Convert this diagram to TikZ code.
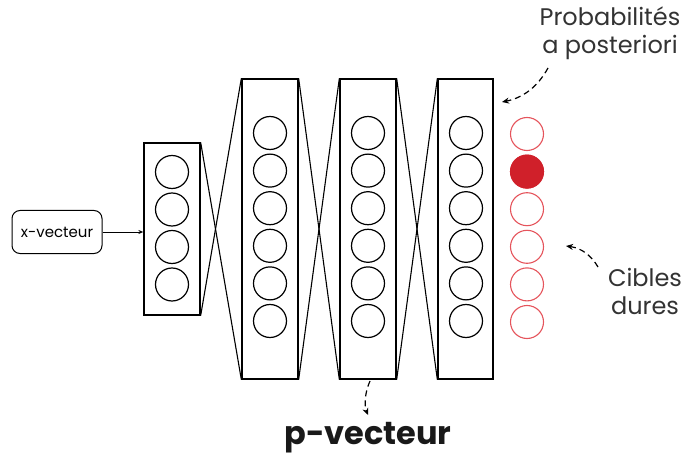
\documentclass[tikz,border=0pt]{standalone}
\usepackage{fontspec}
\setmainfont{Poppins}
\usetikzlibrary{arrows.meta}
\definecolor{redfill}{HTML}{D0202A}
\definecolor{redline}{HTML}{E5545C}
\tikzset{
  layerbox/.style={draw, line width=1.3pt, minimum width=56pt, inner sep=0pt},
  neuron/.style={circle, draw, line width=1.2pt, minimum size=33pt, inner sep=0pt},
  target/.style={circle, draw=redline, line width=1.1pt, minimum size=33pt, inner sep=0pt},
  cross/.style={line width=1.1pt},
  annot/.style={line width=1.2pt, dash pattern=on 6pt off 4pt, -{Stealth[length=7pt,width=6pt]}},
  lbl/.style={font=\fontsize{24}{28}\selectfont, text=black!80, align=center}
}
\begin{document}
\begin{tikzpicture}[x=1pt,y=-1pt]
\useasboundingbox (0,0) rectangle (688,457);
% input
\node[draw, rounded corners=8pt, line width=1pt, minimum width=90pt, minimum height=43pt, inner sep=0pt, font=\fontsize{15}{17}\selectfont] (xv) at (57,232) {x-vecteur};
% layer boxes
\node[layerbox, minimum height=172pt] (b1) at (172,229) {};
\node[layerbox, minimum height=300pt] (b2) at (270,229) {};
\node[layerbox, minimum height=300pt] (b3) at (368,229) {};
\node[layerbox, minimum height=300pt, minimum width=55pt] (b4) at (465.5,229) {};
% neurons
\foreach \y [count=\i] in {172,209.5,247,284.5} \node[neuron] (a\i) at (172,\y) {};
\foreach \y [count=\i] in {133,170.6,208.2,245.8,283.4,321}{
  \node[neuron] (c\i) at (270,\y) {};
  \node[neuron] (d\i) at (368,\y) {};
  \node[neuron] (e\i) at (466,\y) {};
}
\foreach \y [count=\i] in {134,171.6,209.2,246.8,284.4,322}
  \node[target] (t\i) at (527,\y) {};
\node[circle, fill=redfill, draw=redfill, line width=1.1pt, minimum size=33pt, inner sep=0pt] at (t2) {};
% connections
\draw[-{Stealth[length=5pt,width=4pt]}, line width=0.9pt] (xv.east) -- (xv.east -| b1.west);
\draw[cross] (b1.north east) -- (b2.south west);
\draw[cross] (b1.south east) -- (b2.north west);
\draw[cross] (b2.north east) -- (b3.south west);
\draw[cross] (b2.south east) -- (b3.north west);
\draw[cross] (b3.north east) -- (b4.south west);
\draw[cross] (b3.south east) -- (b4.north west);
% labels
\node[lbl] (prob) at (610,33) {Probabilités\\a posteriori};
\node[lbl] (cib) at (645,291) {Cibles\\dures};
\node[font=\fontsize{32}{36}\selectfont\bfseries, text=black!90] (pv) at (368,438) {p-vecteur};
\coordinate (ps) at (548,68);
\coordinate (pe) at (502,102);
\coordinate (cs) at (598,267);
\coordinate (ce) at (566,246);
\coordinate (vs) at (370,381);
\coordinate (ve) at (368,415);
\draw[annot] (ps) .. controls (537,88) and (522,98) .. (pe);
\draw[annot] (cs) .. controls (591,255) and (581,248) .. (ce);
\draw[annot] (vs) .. controls (365,392) and (364,405) .. (ve);
\end{tikzpicture}
\end{document}
